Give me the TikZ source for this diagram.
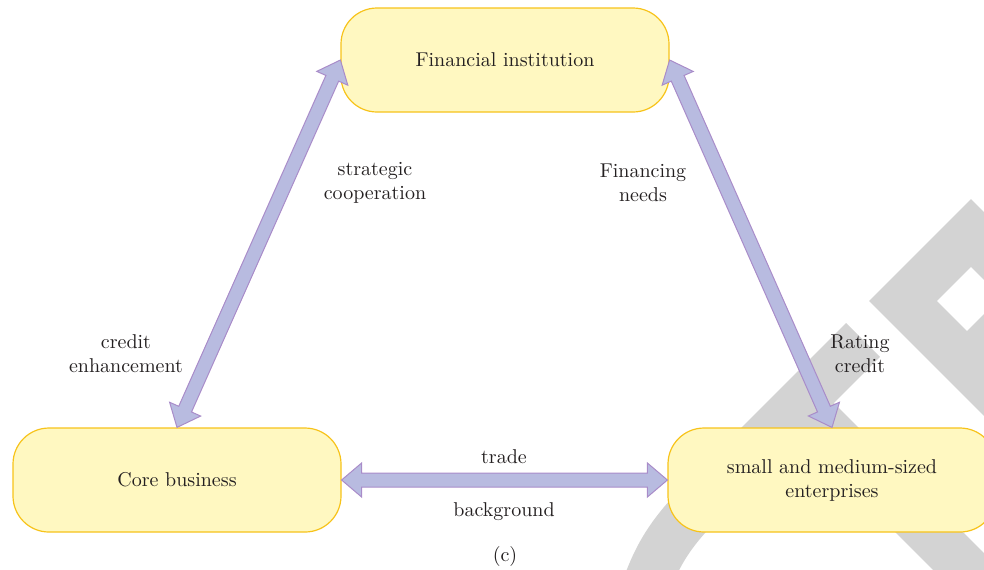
\documentclass[tikz,border=0pt]{standalone}
\usepackage{tikz}
\usetikzlibrary{calc}
\pgfdeclarelayer{bg}
\pgfsetlayers{bg,main}
\definecolor{boxfill}{RGB}{255,248,193}
\definecolor{boxline}{RGB}{247,195,26}
\definecolor{arrfill}{RGB}{184,187,224}
\definecolor{arrline}{RGB}{169,140,201}
\definecolor{ghostgray}{RGB}{211,211,211}
\definecolor{ink}{RGB}{35,31,32}
\tikzstyle{party}=[fill=boxfill, draw=boxline, line width=0.6pt, rounded corners=18pt, minimum width=164pt, minimum height=52pt, align=center, text=ink]
\tikzstyle{lbl}=[align=center, text=ink]
\tikzstyle{fatarr}=[fill=arrfill, draw=arrline, line width=0.5pt, line join=miter]
\tikzstyle{ghost}=[draw=ghostgray, line width=24pt]
% fat two-headed arrow between two anchors
\newcommand{\dblarrow}[2]{%
  \coordinate (h1) at ($(#1)!10pt!(#2)$);
  \coordinate (h2) at ($(#2)!10pt!(#1)$);
  \draw [fatarr] (#1) -- ($(h1)!8.5pt!90:(#2)$) -- ($(h1)!3.5pt!90:(#2)$)
    -- ($(h2)!3.5pt!-90:(#1)$) -- ($(h2)!8.5pt!-90:(#1)$) -- (#2)
    -- ($(h2)!8.5pt!90:(#1)$) -- ($(h2)!3.5pt!90:(#1)$)
    -- ($(h1)!3.5pt!-90:(#2)$) -- ($(h1)!8.5pt!-90:(#2)$) -- cycle;}

\begin{document}
\begin{tikzpicture}[x=0.5pt, y=-0.5pt]
    \useasboundingbox (0, 0) rectangle (984, 569);

    \node [party] (fin) at (505, 60) {Financial institution};
    \node [party] (core) at (177, 480) {Core business};
    \node [party] (sme) at (832, 480) {small and medium-sized\\enterprises};

    \node [lbl] (coop) at (375, 183) {strategic\\cooperation};
    \node [lbl] (need) at (643, 183) {Financing\\needs};
    \node [lbl] (enh) at (126, 354) {credit\\enhancement};
    \node [lbl] (rate) at (860, 354) {Rating\\credit};
    \node [lbl] (trade) at (504, 457) {trade};
    \node [lbl] (back) at (504, 512) {background};
    \node [lbl] (cap) at (505, 556) {(c)};

    \dblarrow{core.north}{fin.west}
    \dblarrow{fin.east}{sme.north}
    \dblarrow{core.east}{sme.west}

    \begin{pgfonlayer}{bg}
        \clip (0, 0) rectangle (984, 569);
        \draw [ghost] (1100, 498) -- (903, 301) -- (971, 233) -- (1035, 297) -- (967, 365);
        \draw [ghost] (863, 340) -- (712, 491) .. controls (680, 523) and (660, 545) .. (645, 590);
        \draw [ghost] (800, 403) -- (1060, 663);
    \end{pgfonlayer}
\end{tikzpicture}
\end{document}
